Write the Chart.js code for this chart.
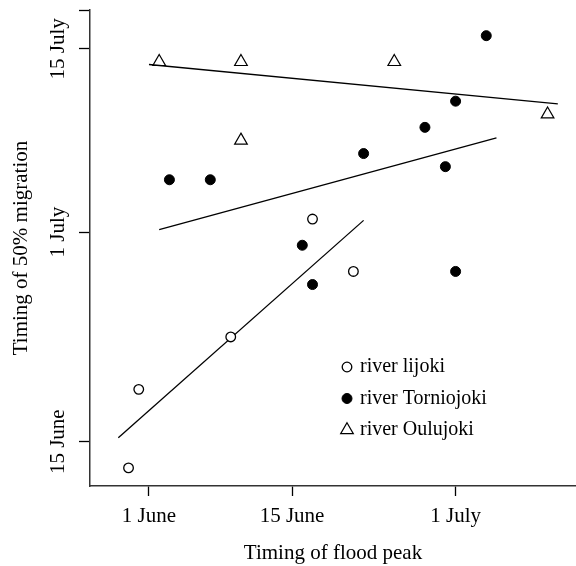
<!DOCTYPE html>
<html>
<head>
<meta charset="utf-8">
<script src="https://cdn.jsdelivr.net/npm/chart.js@4.4.1/dist/chart.umd.min.js"></script>
<style>
  html, body { margin: 0; padding: 0; background: #fff; overflow: hidden; }
  #wrap { width: 576px; height: 566px; position: relative; }
  canvas { display: block; }
</style>
</head>
<body>
<div id="wrap"><canvas id="floodChart"></canvas></div>
<script>
// days are day-of-year: 152 = 1 June, 166 = 15 June, 182 = 1 July, 196 = 15 July
const seriesNames = ['river lijoki', 'river Torniojoki', 'river Oulujoki'];

const iijokiX = [150, 151, 160, 168, 172];
const iijokiY = [164, 170, 174, 183, 179];

const tornioX = [154, 158, 167, 168, 173, 179, 181, 182, 182, 185];
const tornioY = [186, 186, 181, 178, 188, 190, 187, 192, 179, 197];

const ouluX = [153, 161, 176, 161, 191];
const ouluY = [195, 195, 195, 189, 191];

// fitted lines, end points
const iijokiFitX = [149, 173];
const iijokiFitY = [166.3, 182.9];
const tornioFitX = [153, 186];
const tornioFitY = [182.2, 189.2];
const ouluFitX = [152, 192];
const ouluFitY = [194.8, 191.8];

const xTickValues = [152, 166, 182];
const xTickLabels = ['1 June', '15 June', '1 July'];
const yTickValues = [166, 182, 196];
const yTickLabels = ['15 June', '1 July', '15 July'];

const serif = '"Liberation Serif", "DejaVu Serif", serif';
const toPoints = (xs, ys) => xs.map((x, i) => ({x: x, y: ys[i]}));

const fitLine = (xs, ys) => ({
    type: 'line',
    data: toPoints(xs, ys),
    borderColor: '#000',
    borderWidth: 1.3,
    pointRadius: 0,
    fill: false
});

// y tick labels are rotated like R draws them
const yLabelsPlugin = {
    id: 'yLabels',
    afterDraw(chart) {
        const ctx = chart.ctx;
        const y = chart.scales.y;
        ctx.save();
        ctx.fillStyle = '#000';
        ctx.font = '21px ' + serif;
        ctx.textAlign = 'center';
        ctx.textBaseline = 'middle';
        yTickValues.forEach((v, i) => {
            ctx.save();
            ctx.translate(58, y.getPixelForValue(v));
            ctx.rotate(-Math.PI / 2);
            ctx.fillText(yTickLabels[i], 0, 0);
            ctx.restore();
        });
        ctx.restore();
    }
};

// legend inside the plot, bottom right
const innerLegend = {
    id: 'innerLegend',
    afterDraw(chart) {
        const ctx = chart.ctx;
        ctx.save();
        ctx.font = '20px ' + serif;
        ctx.fillStyle = '#000';
        ctx.textBaseline = 'middle';
        seriesNames.forEach((name, i) => {
            const ds = chart.data.datasets[i];
            const yy = 367 + i * 31.5;
            ctx.save();
            ctx.strokeStyle = ds.borderColor;
            ctx.fillStyle = ds.backgroundColor;
            ctx.lineWidth = ds.borderWidth;
            Chart.helpers.drawPoint(ctx, {pointStyle: ds.pointStyle, radius: ds.pointRadius, borderWidth: ds.borderWidth}, 347, yy);
            ctx.restore();
            ctx.fillText(name, 360, yy);
        });
        ctx.restore();
    }
};

new Chart(document.getElementById('floodChart'), {
    type: 'scatter',
    data: {
        datasets: [{
            label: seriesNames[0],
            data: toPoints(iijokiX, iijokiY),
            pointStyle: 'circle',
            pointRadius: 4.8,
            borderWidth: 1.3,
            borderColor: '#000',
            backgroundColor: '#fff'
        }, {
            label: seriesNames[1],
            data: toPoints(tornioX, tornioY),
            pointStyle: 'circle',
            pointRadius: 5,
            borderWidth: 1,
            borderColor: '#000',
            backgroundColor: '#000'
        }, {
            label: seriesNames[2],
            data: toPoints(ouluX, ouluY),
            pointStyle: 'triangle',
            pointRadius: 7.3,
            borderWidth: 1.2,
            borderColor: '#000',
            backgroundColor: 'rgba(0,0,0,0)'
        },
        fitLine(iijokiFitX, iijokiFitY),
        fitLine(tornioFitX, tornioFitY),
        fitLine(ouluFitX, ouluFitY)]
    },
    options: {
        responsive: true,
        maintainAspectRatio: false,
        animation: false,
        layout: { autoPadding: false, padding: { top: 10, right: 0, left: 0, bottom: 0 } },
        plugins: {
            legend: { display: false },
            tooltip: { enabled: false }
        },
        scales: {
            x: {
                type: 'linear',
                min: 146.23,
                max: 193.78,
                afterBuildTicks: (axis) => { axis.ticks = xTickValues.map(v => ({value: v})); },
                afterFit: (axis) => { axis.height = 80; },
                ticks: {
                    callback: (v, i) => xTickLabels[i],
                    color: '#000',
                    font: { family: serif, size: 21 },
                    padding: 8,
                    maxRotation: 0,
                    autoSkip: false
                },
                grid: { drawOnChartArea: false, drawTicks: true, tickLength: 10, color: '#000', tickWidth: 1.3 },
                border: { display: true, color: '#333', width: 1.5 },
                title: {
                    display: true,
                    text: 'Timing of flood peak',
                    color: '#000',
                    font: { family: serif, size: 21 },
                    padding: { top: 0, bottom: 0 }
                }
            },
            y: {
                type: 'linear',
                min: 162.62,
                max: 198.96,
                afterBuildTicks: (axis) => { axis.ticks = yTickValues.concat([axis.max]).map(v => ({value: v})); },
                afterFit: (axis) => { axis.width = 90; },
                ticks: { display: false },
                grid: { drawOnChartArea: false, drawTicks: true, tickLength: 11, color: '#000', tickWidth: 1.3 },
                border: { display: true, color: '#333', width: 1.5 },
                title: {
                    display: true,
                    text: 'Timing of 50% migration',
                    color: '#000',
                    font: { family: serif, size: 21 },
                    padding: { top: 9, bottom: 0 }
                }
            }
        }
    },
    plugins: [yLabelsPlugin, innerLegend]
});
</script>
</body>
</html>
